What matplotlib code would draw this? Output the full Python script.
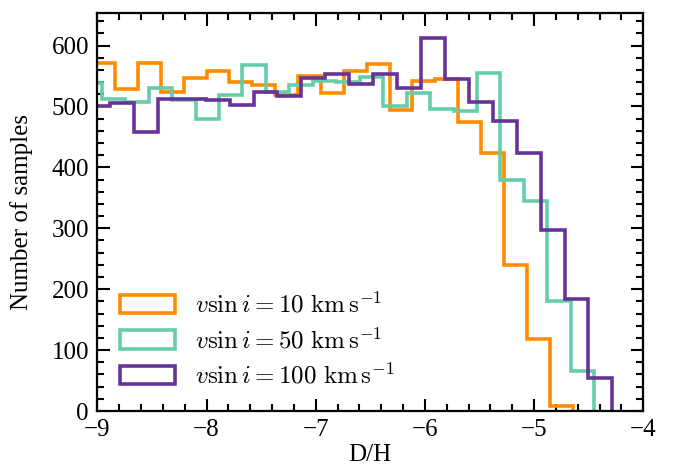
import numpy as np
import matplotlib
matplotlib.use("Agg")
import matplotlib.pyplot as plt
from matplotlib.ticker import MultipleLocator

plt.rcParams['font.family'] = ['Liberation Serif', 'DejaVu Serif']
plt.rcParams['mathtext.fontset'] = 'cm'
plt.rcParams['axes.unicode_minus'] = True

labels = [r'$v\sin i = 10\ \mathrm{km\,s^{-1}}$',
          r'$v\sin i = 50\ \mathrm{km\,s^{-1}}$',
          r'$v\sin i = 100\ \mathrm{km\,s^{-1}}$']
colors = ['#FF8C00', '#66CDAA', '#663399']

# bin edges (D/H) for each series
edges_10 = np.linspace(-9.047, -4.648, 22)
edges_50 = np.linspace(-9.174, -4.449, 23)
edges_100 = np.linspace(-9.103, -4.283, 23)

counts_10 = [572, 528, 571, 524, 547, 558, 540, 535, 519, 550, 522, 558, 570,
             495, 542, 545, 475, 423, 240, 118, 9]
counts_50 = [539, 513, 508, 530, 511, 479, 519, 568, 523, 535, 542, 541, 549,
             500, 522, 496, 493, 555, 379, 345, 181, 66]
counts_100 = [501, 505, 458, 512, 512, 510, 502, 524, 518, 546, 554, 537, 553,
              531, 612, 545, 508, 476, 423, 297, 184, 55]

fig = plt.figure(figsize=(6.73, 4.75), dpi=100)
ax = fig.add_axes([0.1446, 0.1347, 0.8113, 0.8386])

for c, e, col, lab in zip([counts_10, counts_50, counts_100],
                          [edges_10, edges_50, edges_100], colors, labels):
    e = np.asarray(e)
    ax.hist(e[:-1], bins=e, weights=c, histtype='step', color=col,
            lw=2.6, label=lab)

ax.set_xlim(-9, -4)
ax.set_ylim(0, 654)
ax.xaxis.set_major_locator(MultipleLocator(1))
ax.xaxis.set_minor_locator(MultipleLocator(0.2))
ax.yaxis.set_major_locator(MultipleLocator(100))
ax.yaxis.set_minor_locator(MultipleLocator(20))
ax.tick_params(which='both', direction='in', top=True, right=True,
               labelsize=18, width=1.5, colors='black')
ax.tick_params(which='major', length=9, pad=6)
ax.tick_params(which='minor', length=5)
for s in ax.spines.values():
    s.set_linewidth(1.6)

ax.set_xlabel('D/H', fontsize=18, labelpad=2)
ax.set_ylabel('Number of samples', fontsize=18, labelpad=13)

ax.legend(loc='lower left', frameon=False, fontsize=18, handlelength=2.2,
          handleheight=0.75, handletextpad=0.8, labelspacing=0.38,
          borderaxespad=0.5)

fig.savefig('out.png', dpi=100)
